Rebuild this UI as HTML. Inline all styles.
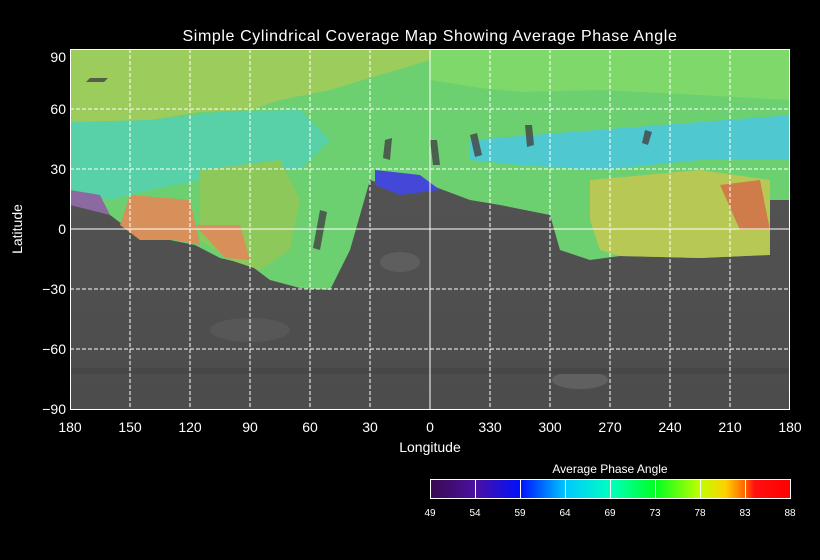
<!DOCTYPE html>
<html><head><meta charset="utf-8"><style>
html,body{margin:0;padding:0;background:#000;}
svg{display:block;font-family:"Liberation Sans","DejaVu Sans",sans-serif;}
</style></head><body>
<svg width="820" height="560" viewBox="0 0 820 560" xmlns="http://www.w3.org/2000/svg">
<defs>
<linearGradient id="cb" x1="0" x2="1" y1="0" y2="0">
<stop offset="0" stop-color="#3a0a50"/><stop offset="0.125" stop-color="#4a10a0"/>
<stop offset="0.25" stop-color="#0010ff"/><stop offset="0.375" stop-color="#00c8ff"/>
<stop offset="0.5" stop-color="#00ffc0"/><stop offset="0.625" stop-color="#00ff20"/>
<stop offset="0.75" stop-color="#c0ff00"/><stop offset="0.82" stop-color="#ffd000"/>
<stop offset="0.875" stop-color="#ff6000"/><stop offset="0.9" stop-color="#ff1010"/>
<stop offset="1" stop-color="#ff0000"/>
</linearGradient>
<linearGradient id="gray" x1="0" x2="0" y1="0" y2="1">
<stop offset="0" stop-color="#565656"/><stop offset="1" stop-color="#4c4c4c"/>
</linearGradient>
</defs>
<text x="430" y="41" fill="#fff" font-size="16" text-anchor="middle" letter-spacing="0.6">Simple Cylindrical Coverage Map Showing Average Phase Angle</text>
<rect x="70" y="49" width="720" height="361" fill="url(#gray)"/>
<ellipse cx="400" cy="262" rx="20" ry="10" fill="#5e5e5e"/>
<ellipse cx="580" cy="380" rx="28" ry="9" fill="#606060"/>
<ellipse cx="250" cy="330" rx="40" ry="12" fill="#575757"/>
<rect x="70" y="368" width="720" height="6" fill="#474747"/>
<polygon fill="#6cd070" points="70,49 790,49 790,200 770,200 765,255 700,258 620,256 590,260 560,250 550,215 500,205 470,200 430,185 400,190 370,180 350,250 340,270 330,290 300,288 270,280 250,265 220,258 195,245 170,240 130,230 110,215 90,200 70,190"/>
<polygon fill="#9ccc5c" points="70,49 430,49 430,60 380,75 330,90 280,100 250,110 200,112 150,120 100,122 70,122"/>
<polygon fill="#7ed86a" points="430,49 790,49 790,100 700,95 600,90 520,92 480,88 430,80"/>
<polygon fill="#58d0a8" points="70,122 150,120 220,112 300,110 330,140 300,170 250,170 200,180 150,190 110,200 70,190"/>
<polygon fill="#8cc85a" points="200,170 280,160 300,200 290,250 260,270 230,260 200,240"/>
<polygon fill="#d8905a" points="130,195 190,200 200,245 175,240 140,240 120,225"/>
<polygon fill="#d8905a" points="195,225 240,225 250,260 225,258"/>
<polygon fill="#50c8d0" points="470,140 790,115 790,160 700,160 600,170 520,165 470,160"/>
<polygon fill="#4448d8" points="375,170 420,175 440,190 400,195 375,185"/>
<polygon fill="#b8c854" points="590,180 700,170 770,180 770,255 700,258 620,256 600,250 590,220"/>
<polygon fill="#d07c4a" points="720,185 760,180 770,230 740,230"/>
<polygon fill="#8a6aa0" points="70,190 100,195 110,215 90,210 70,205"/>
<g fill="#444" opacity="0.8">
<polygon points="385,140 392,138 390,160 383,158"/>
<polygon points="430,140 437,140 440,165 433,165"/>
<polygon points="470,135 477,133 482,155 475,157"/>
<polygon points="525,125 532,125 534,145 527,147"/>
<polygon points="645,130 652,132 648,145 642,143"/>
<polygon points="320,210 327,212 320,250 313,248"/>
<polygon points="90,78 108,78 104,82 86,82"/>
</g>
<g stroke="#fff" stroke-width="1" fill="none">
<g stroke-dasharray="4,2">
<line x1="130" y1="49" x2="130" y2="410"/><line x1="190" y1="49" x2="190" y2="410"/>
<line x1="250" y1="49" x2="250" y2="410"/><line x1="310" y1="49" x2="310" y2="410"/>
<line x1="370" y1="49" x2="370" y2="410"/><line x1="490" y1="49" x2="490" y2="410"/>
<line x1="550" y1="49" x2="550" y2="410"/><line x1="610" y1="49" x2="610" y2="410"/>
<line x1="670" y1="49" x2="670" y2="410"/><line x1="730" y1="49" x2="730" y2="410"/>
<line x1="70" y1="109" x2="790" y2="109"/><line x1="70" y1="169" x2="790" y2="169"/>
<line x1="70" y1="289" x2="790" y2="289"/><line x1="70" y1="349" x2="790" y2="349"/>
</g>
<line x1="430" y1="49" x2="430" y2="410"/>
<line x1="70" y1="229" x2="790" y2="229"/>
<rect x="70.5" y="49.5" width="719" height="360"/>
</g>
<g fill="#fff" font-size="14" text-anchor="end">
<text x="66" y="62">90</text><text x="66" y="114">60</text><text x="66" y="174">30</text>
<text x="66" y="234">0</text><text x="66" y="294">−30</text><text x="66" y="354">−60</text><text x="66" y="414">−90</text>
</g>
<g fill="#fff" font-size="14" text-anchor="middle">
<text x="70" y="432">180</text><text x="130" y="432">150</text><text x="190" y="432">120</text>
<text x="250" y="432">90</text><text x="310" y="432">60</text><text x="370" y="432">30</text>
<text x="430" y="432">0</text><text x="490" y="432">330</text><text x="550" y="432">300</text>
<text x="610" y="432">270</text><text x="670" y="432">240</text><text x="730" y="432">210</text>
<text x="790" y="432">180</text>
<text x="430" y="452">Longitude</text>
<text transform="translate(22,229) rotate(-90)">Latitude</text>
<text x="610" y="473" font-size="12">Average Phase Angle</text>
</g>
<rect x="430.5" y="479.5" width="360" height="19" fill="url(#cb)" stroke="#fff"/>
<g stroke="#fff"><line x1="475.5" y1="479" x2="475.5" y2="499"/><line x1="520.5" y1="479" x2="520.5" y2="499"/>
<line x1="565.5" y1="479" x2="565.5" y2="499"/><line x1="610.5" y1="479" x2="610.5" y2="499"/>
<line x1="655.5" y1="479" x2="655.5" y2="499"/><line x1="700.5" y1="479" x2="700.5" y2="499"/>
<line x1="745.5" y1="479" x2="745.5" y2="499"/></g>
<g fill="#fff" font-size="10" text-anchor="middle">
<text x="430" y="516">49</text><text x="475" y="516">54</text><text x="520" y="516">59</text>
<text x="565" y="516">64</text><text x="610" y="516">69</text><text x="655" y="516">73</text>
<text x="700" y="516">78</text><text x="745" y="516">83</text><text x="790" y="516">88</text>
</g>
</svg>
</body></html>
